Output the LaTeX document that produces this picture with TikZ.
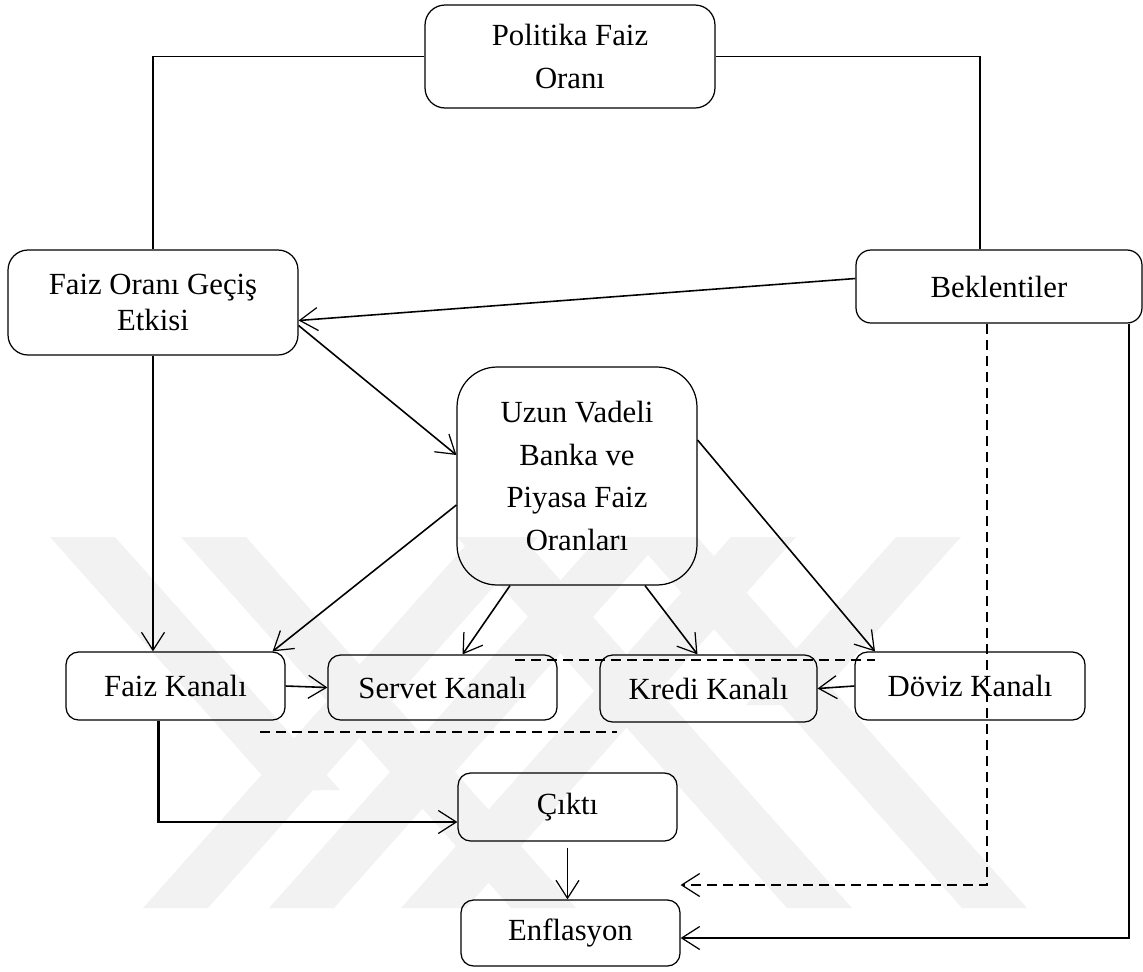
\documentclass[tikz,border=0pt]{standalone}
\usepackage{fontspec}
\setmainfont{Liberation Serif}
\usetikzlibrary{arrows.meta,positioning,calc}

\begin{document}
\begin{tikzpicture}[
        x=0.02cm, y=-0.02cm,
        box/.style={rectangle, rounded corners=#1, draw, line width=0.7pt,
            align=center, inner sep=0pt,
            font=\fontsize{17.5}{23}\selectfont},
        box/.default=0.25cm,
        tip/.style={-{Straight Barb[length=0.36cm, width=0.46cm, line width=0.7pt]}},
        link/.style={line width=0.9pt, tip},
        plain/.style={line width=0.9pt},
        dashlink/.style={line width=0.9pt, dash pattern=on 0.2cm off 0.12cm},
        band/.style={fill=black!5, draw=none}
    ]
        \useasboundingbox (0,0) rectangle (1143,971);

        % faint watermark in the back
        \foreach \a in {181,457,632}
            \fill[band] (\a,537) -- ++(65,0) -- ++(330,371) -- ++(-65,0) -- cycle;
        \foreach \b in {143,269,401}
            \fill[band] (\b,908) -- ++(65,0) -- ++(330,-371) -- ++(-65,0) -- cycle;
        \fill[band] (50,537) -- ++(65,0) -- ++(225,253) -- ++(-65,0) -- cycle;
        \fill[band] (896,537) -- ++(65,0) -- ++(-150,168) -- ++(-65,0) -- cycle;

        \node[box=0.4cm, minimum width=5.8cm, minimum height=2.06cm,
            font=\fontsize{17.5}{25}\selectfont] (pol) at (570,56.5) {Politika Faiz\\Oranı};
        \node[box=0.4cm, minimum width=5.8cm, minimum height=2.1cm,
            font=\fontsize{17.5}{20}\selectfont] (gecis) at (153,302.5) {Faiz Oranı Geçiş\\Etkisi};
        \node[box=0.3cm, minimum width=5.72cm, minimum height=1.46cm] (bek) at (999,286.5) {Beklentiler};
        \node[box=0.8cm, minimum width=4.8cm, minimum height=4.36cm,
            font=\fontsize{17.5}{24.4}\selectfont] (uzun) at (577,476) {Uzun Vadeli\\Banka ve\\Piyasa Faiz\\Oranları};

        \node[box, minimum width=4.38cm, minimum height=1.36cm] (fkan) at (175.5,686) {Faiz Kanalı};
        \node[box, minimum width=4.58cm, minimum height=1.3cm] (serv) at (442.5,687.5) {Servet Kanalı};
        \node[box, minimum width=4.34cm, minimum height=1.34cm] (kred) at (708.5,688.5) {Kredi Kanalı};
        \node[box, minimum width=4.6cm, minimum height=1.36cm] (dov) at (970,686) {Döviz Kanalı};

        \node[box, minimum width=4.38cm, minimum height=1.36cm] (cikti) at (567.5,807) {Çıktı};
        \node[box, minimum width=4.38cm, minimum height=1.32cm] (enf) at (570.5,933) {Enflasyon};

        \coordinate (dashA) at (515,660);
        \coordinate (dashB) at (875,660);
        \coordinate (dashC) at (260,732);
        \coordinate (dashD) at (617,732);

        % policy rate splits to both sides
        \draw[plain] (pol.west) -| (gecis.north);
        \draw[plain] (pol.east) -| ($(bek.north)+(-19,0)$);

        \draw[link] ($(bek.west)+(0,-8)$) -- ($(gecis.east)+(0,18)$);
        \draw[link] ($(gecis.east)+(0,23)$) -- ($(uzun.west)+(0,-21)$);
        \draw[link] (gecis.south) -- (gecis.south |- fkan.north);

        \draw[link] ($(uzun.west)+(0,29)$) -- ($(fkan.north east)+(-13,0)$);
        \draw[link] ($(uzun.south)+(-67,0)$) -- ($(serv.north)+(20,0)$);
        \draw[link] ($(uzun.south)+(68,0)$) -- ($(kred.north)+(-11,0)$);
        \draw[link] ($(uzun.east)+(0,-36)$) -- ($(dov.north)+(-95,0)$);

        \draw[link] (fkan.east) -- (serv.west);
        \draw[link] (dov.west) -- (kred.east);

        \draw[link, line width=1.2pt] ($(fkan.south)+(-17,0)$) |- ($(cikti.west)+(0,15)$);
        \draw[link] ($(cikti.south)+(0,6)$) -- (cikti.south |- enf.north);

        % expectations reach inflation
        \draw[dashlink, tip] ($(bek.south)+(-12,0)$) |- ($(enf.east)+(0,-48)$);
        \draw[link, line width=1.2pt] ($(bek.south east)+(-14,0)$) |- ($(enf.east)+(0,5)$);

        \draw[dashlink] (dashA) -- (dashB);
        \draw[dashlink] (dashC) -- (dashD);
    \end{tikzpicture}
\end{document}
